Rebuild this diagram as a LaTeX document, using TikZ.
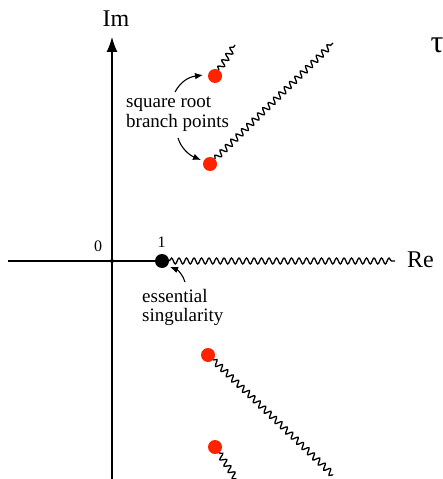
\documentclass[tikz,border=0pt]{standalone}
\usepackage{fontspec}
\setmainfont{Liberation Serif}
\usetikzlibrary{decorations.pathmorphing,arrows.meta}
\definecolor{dotred}{RGB}{255,35,0}
\tikzset{
  lbl/.style={inner sep=0pt, font=\fontsize{19bp}{20bp}\selectfont},
  axlbl/.style={inner sep=0pt, font=\fontsize{24bp}{26bp}\selectfont},
  numlbl/.style={inner sep=0pt, font=\fontsize{16bp}{18bp}\selectfont},
  bpoint/.style={circle, fill=dotred, inner sep=0pt, minimum size=14bp},
  essdot/.style={circle, fill=black, inner sep=0pt, minimum size=14bp},
  wavy/.style={decorate, decoration={snake, segment length=7.5bp, amplitude=3bp}, line width=1.3bp},
  axisline/.style={line width=1.2bp},
  pointer/.style={line width=1.1bp, -{Latex[length=8bp,width=6.5bp]}},
}
\begin{document}
\begin{tikzpicture}[x=1bp,y=-1bp]
\useasboundingbox (0,0) rectangle (443,479);
% labels
\node[axlbl, anchor=base] (im) at (116,27) {Im};
\node[axlbl, anchor=base west] (re) at (407,267) {Re};
\node[inner sep=0pt, anchor=base, font=\fontsize{32bp}{34bp}\selectfont] (tau) at (437,53) {τ};
\node[numlbl, anchor=base] (zero) at (98,251) {0};
\node[numlbl, anchor=base] (one) at (161.5,247) {1};
\node[lbl, anchor=base west] (sq1) at (126,108) {square root};
\node[lbl, anchor=base west] (sq2) at (126,128) {branch points};
\node[lbl, anchor=base west] (es1) at (142,302) {essential};
\node[lbl, anchor=base west] (es2) at (142,321) {singularity};
% axes
\coordinate (vbot) at (112,479);
\coordinate (vtop) at (112,37);
\coordinate (hleft) at (8,261);
\node[circle, fill=black, inner sep=0pt, minimum size=4bp] (origin) at (112,261) {};
\node[essdot] (sing) at (162,261) {};
\draw[axisline, -{Latex[length=15bp,width=11bp]}] (vbot) -- (vtop);
\draw[axisline] (hleft) -- (sing.center);
% branch points
\node[bpoint] (r1) at (215,76) {};
\node[bpoint] (r2) at (210,164) {};
\node[bpoint] (r3) at (208,355) {};
\node[bpoint] (r4) at (215,447) {};
% cut ends
\coordinate (e0) at (395,261);
\coordinate (e1) at (235,45);
\coordinate (e2) at (333,43);
\coordinate (e3) at (333,475);
\coordinate (e4) at (236,479);
\draw[wavy] (sing) -- (e0);
\draw[wavy] (r1) -- (e1);
\draw[wavy] (r2) -- (e2);
\draw[wavy] (r3) -- (e3);
\draw[wavy] (r4) -- (e4);
% pointers
\coordinate (a1s) at (175,92);
\coordinate (a1e) at (203,75);
\coordinate (a2s) at (178,138);
\coordinate (a2e) at (201,160);
\coordinate (a3s) at (185,282);
\coordinate (a3e) at (170,267);
\draw[pointer] (a1s) .. controls (181,81) and (189,77) .. (a1e);
\draw[pointer] (a2s) .. controls (181,148) and (189,155) .. (a2e);
\draw[pointer] (a3s) .. controls (183,275) and (178,270) .. (a3e);
\end{tikzpicture}
\end{document}
